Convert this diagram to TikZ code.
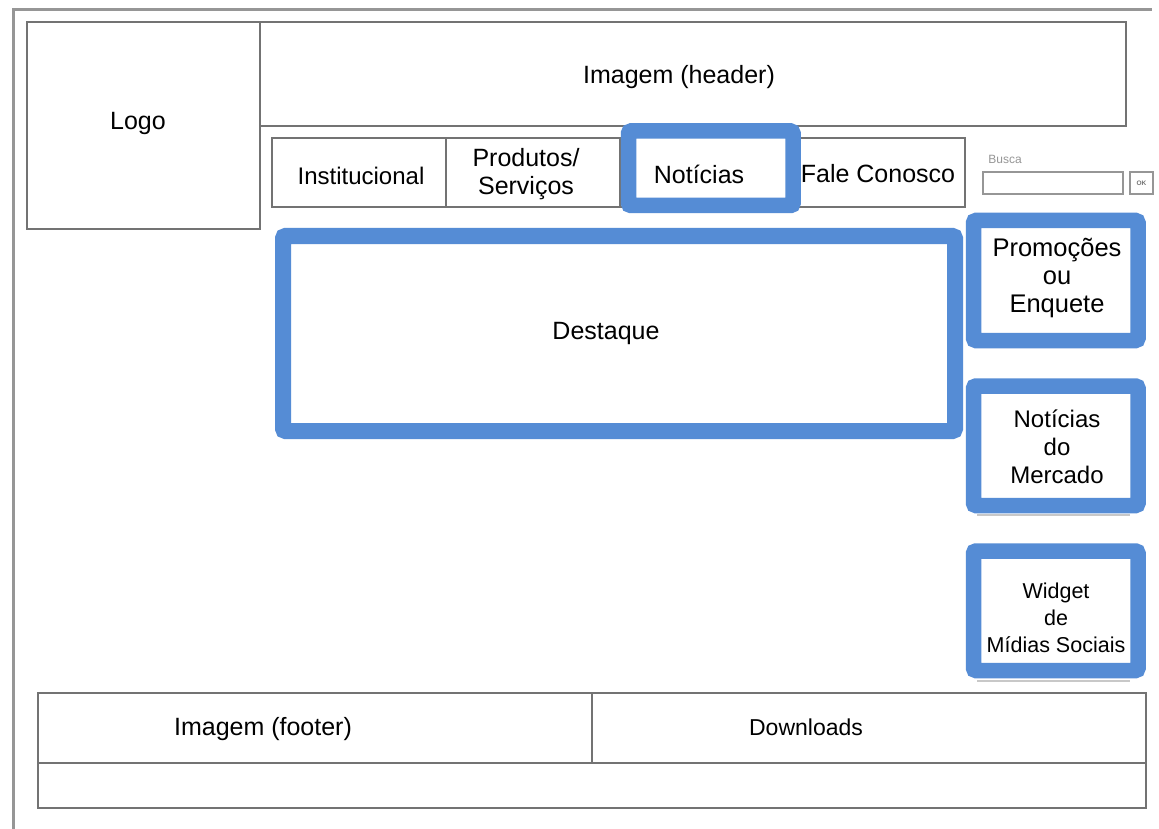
\documentclass[tikz,border=0pt]{standalone}
\usepackage{fontspec}
\setmainfont{Liberation Sans}
\definecolor{hl}{RGB}{85,140,213}
\definecolor{ln}{RGB}{115,115,115}
\definecolor{fr}{RGB}{150,150,150}
\definecolor{shd}{RGB}{200,200,200}
\begin{document}
\begin{tikzpicture}[x=1pt,y=-1pt,
  box/.style={draw=ln,line width=2pt,inner sep=0pt,outer sep=0pt,fill=white},
  hlbox/.style={draw=hl,line width=15.5pt,rounded corners=2.5pt,fill=white,inner sep=0pt,outer sep=0pt},
  lbl/.style={inner sep=0pt,font=\fontsize{25}{28}\selectfont,align=center},
  lbls/.style={inner sep=0pt,font=\fontsize{23}{28}\selectfont,align=center},
  lbl3/.style={inner sep=0pt,font=\fontsize{24}{28}\selectfont,align=center}]
\useasboundingbox (0,0) rectangle (1159,829);
\fill[white] (0,0) rectangle (1159,829);
% frame
\coordinate (fbl) at (13,829);
\coordinate (ftl) at (13,10);
\coordinate (ftr) at (1152,10);
\draw[fr,line width=3pt] (fbl) -- (ftl) -- (ftr);
% logo and header
\node[box,minimum width=233pt,minimum height=207pt] (logo) at (143.5,125.5) {};
\node[lbl] (logot) at (138,123) {Logo};
\node[box,minimum width=866pt,minimum height=104pt] (header) at (693,74) {};
\node[lbl] (headert) at (679,77) {Imagem (header)};
% nav bar
\node[box,minimum width=693pt,minimum height=69pt] (nav) at (618.5,172.5) {};
\coordinate (d1t) at (446,138); \coordinate (d1b) at (446,207);
\coordinate (d2t) at (620,138); \coordinate (d2b) at (620,207);
\coordinate (d3t) at (797,138); \coordinate (d3b) at (797,207);
\draw[ln,line width=2pt] (d1t) -- (d1b) (d2t) -- (d2b) (d3t) -- (d3b);
\node[lbl,font=\fontsize{24}{28}\selectfont] (inst) at (361,176) {Institucional};
\node[lbl,font=\fontsize{25}{28}\selectfont] (prod) at (526,174) {Produtos/\\Serviços};
\node[lbl] (fale) at (878,174) {Fale Conosco};
\node[hlbox,minimum width=164.5pt,minimum height=74.5pt] (notbox) at (710.75,168.25) {};
\node[lbl] (nott) at (699,174) {Notícias};
% busca
\node[inner sep=0pt,text=fr,font=\fontsize{12}{14}\selectfont] (buscal) at (1005,159) {Busca};
\node[box,draw=fr,minimum width=140pt,minimum height=22pt] (buscain) at (1053,183) {};
\node[box,draw=fr,minimum width=23pt,minimum height=22pt,font=\fontsize{6.5}{7}\selectfont\bfseries,text=ln] (buscaok) at (1141.5,183) {OK};
% destaque
\node[hlbox,line width=16pt,minimum width=672pt,minimum height=195pt] (dest) at (619,333.5) {};
\node[lbl] (destt) at (606,333) {Destaque};
% right column
\coordinate (s1a) at (977,515); \coordinate (s1b) at (1130,515);
\coordinate (s2a) at (977,681); \coordinate (s2b) at (1130,681);
\draw[shd,line width=2pt] (s1a) -- (s1b) (s2a) -- (s2b);
\node[hlbox,minimum width=164.5pt,minimum height=120pt] (promo) at (1055.75,280.5) {};
\node[lbl,font=\fontsize{25.5}{28}\selectfont] (promot) at (1057,278) {Promoções\\ou\\Enquete};
\node[hlbox,minimum width=164.5pt,minimum height=119.5pt] (merc) at (1055.75,445.75) {};
\node[lbl3] (merct) at (1057,447) {Notícias\\do\\Mercado};
\node[hlbox,minimum width=164.5pt,minimum height=119.5pt] (widg) at (1055.75,610.75) {};
\node[lbl,font=\fontsize{21.5}{27}\selectfont] (widgt) at (1056,618) {Widget\\de\\Mídias Sociais};
% footer
\node[box,minimum width=1108pt,minimum height=115pt] (footer) at (592,750.5) {};
\coordinate (fh1) at (38,763); \coordinate (fh2) at (1146,763);
\coordinate (fv1) at (592,693); \coordinate (fv2) at (592,763);
\draw[ln,line width=2pt] (fh1) -- (fh2) (fv1) -- (fv2);
\node[lbl] (foott) at (263,729) {Imagem (footer)};
\node[lbls] (down) at (806,727) {Downloads};
\end{tikzpicture}
\end{document}
